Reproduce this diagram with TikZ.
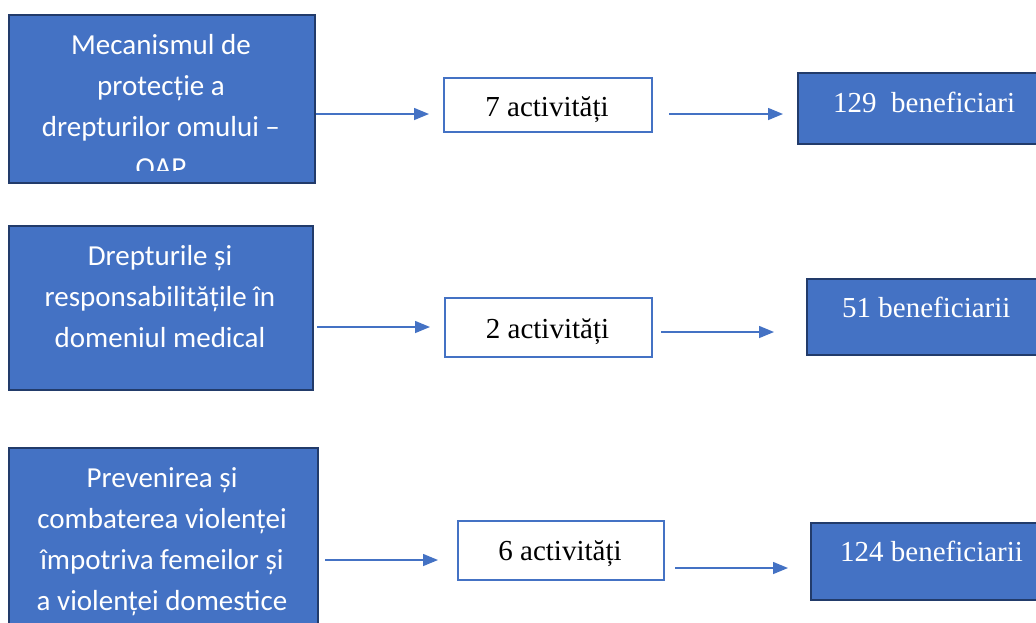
\documentclass[tikz,border=0pt]{standalone}
\usepackage{fontspec}
\setmainfont{Liberation Serif}
\newfontfamily\boxfont{Carlito}
\usetikzlibrary{arrows.meta}
\definecolor{officeblue}{HTML}{4472C4}
\definecolor{navyedge}{HTML}{223B6A}
\tikzset{
  bluebox/.style={draw=navyedge, line width=2.4pt, fill=officeblue, anchor=north west, inner sep=0pt},
  whitebox/.style={draw=officeblue, line width=2.4pt, fill=white, anchor=north west, inner sep=0pt},
  lefttext/.style={text=white, font=\boxfont\fontsize{29}{41}\selectfont, align=center, anchor=base, inner sep=0pt},
  midtext/.style={text=black, font=\fontsize{29}{34}\selectfont, anchor=base, inner sep=0pt},
  righttext/.style={text=white, font=\fontsize{29}{34}\selectfont, anchor=base west, inner sep=0pt},
  arr/.style={draw=officeblue, line width=1.5pt, -{Triangle[length=15pt,width=12pt]}}
}
\begin{document}
\begin{tikzpicture}[x=1pt,y=-1pt]
\useasboundingbox (0,0) rectangle (1036,622);
% left boxes
\node[bluebox, minimum width=306pt, minimum height=168pt] (b1) at (8,14) {};
\node[bluebox, minimum width=304pt, minimum height=164pt] (b2) at (8,225) {};
\node[bluebox, minimum width=309pt, minimum height=200pt] (b3) at (8,447) {};
% middle boxes
\node[whitebox, minimum width=208pt, minimum height=54pt] (m1) at (443,77) {};
\node[whitebox, minimum width=207pt, minimum height=59pt] (m2) at (444,297) {};
\node[whitebox, minimum width=206pt, minimum height=59pt] (m3) at (457,520) {};
% right boxes
\node[bluebox, minimum width=260pt, minimum height=71pt] (r1) at (797,72) {};
\node[bluebox, minimum width=250pt, minimum height=76pt] (r2) at (806,278) {};
\node[bluebox, minimum width=250pt, minimum height=77pt] (r3) at (810,522) {};
% left texts (anchor = baseline of the last line)
\begin{scope}
\clip (10,16) rectangle (312,170);
\node[lefttext] (t1) at (161,177) {Mecanismul de\\protecție a\\drepturilor omului –\\OAP};
\end{scope}
\node[lefttext] (t2) at (160,347) {Drepturile și\\responsabilitățile în\\domeniul medical};
\node[lefttext] (t3) at (162,610) {Prevenirea și\\combaterea violenței\\împotriva femeilor și\\a violenței domestice};
% middle texts
\node[midtext] (a1) at (547,116) {7 activități};
\node[midtext] (a2) at (547.5,338) {2 activități};
\node[midtext] (a3) at (560,560) {6 activități};
% right texts
\node[righttext] (n1) at (833,112) {129\ \ beneficiari};
\node[righttext] (n2) at (842,317) {51 beneficiarii};
\node[righttext] (n3) at (840,561) {124 beneficiarii};
% arrows
\draw[arr, shorten >=14pt] (b1.east|-0,114) -- (m1.west|-0,114);
\draw[arr, shorten <=16pt, shorten >=14pt] (m1.east|-0,114) -- (r1.west|-0,114);
\draw[arr, shorten <=3pt, shorten >=14pt] (b2.east|-0,327) -- (m2.west|-0,327);
\draw[arr, shorten <=8pt, shorten >=32pt] (m2.east|-0,332) -- (r2.west|-0,332);
\draw[arr, shorten <=6pt, shorten >=19pt] (b3.east|-0,560) -- (m3.west|-0,560);
\draw[arr, shorten <=10pt, shorten >=22pt] (m3.east|-0,568) -- (r3.west|-0,568);
\end{tikzpicture}
\end{document}
